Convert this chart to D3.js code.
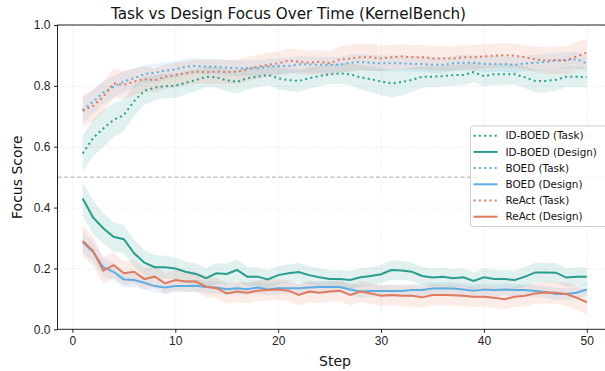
<!DOCTYPE html>
<html lang="en">
<head>
<meta charset="UTF-8">
<title>Task vs Design Focus Over Time (KernelBench)</title>
<script src="https://d3js.org/d3.v7.min.js"></script>
<style>
  body { margin: 0; background: #fff; }
  svg { display: block; font-family: "DejaVu Sans", sans-serif; }
  .grid line { stroke: #ddd; stroke-width: 0.8; stroke-dasharray: 1,2; }
  .grid .domain { display: none; }
  .axis text { font-size: 12px; fill: #222; }
  .axis line { stroke: #222; }
  .axis .domain { display: none; }
</style>
</head>
<body>
<svg id="chart"></svg>
<script>
// data (steps 1..50)
const steps = d3.range(1, 51);
const methods = ["ID-BOED", "BOED", "ReAct"];
const colors = ["#2a9d8f", "#5dade2", "#e07a5f"];
const xTicks = [0, 10, 20, 30, 40, 50];
const yTicks = [0.0, 0.2, 0.4, 0.6, 0.8, 1.0];

const idboedTask = [0.578,0.628,0.660,0.688,0.704,0.750,0.784,0.794,0.799,0.800,
  0.810,0.819,0.830,0.828,0.818,0.813,0.825,0.830,0.836,0.825,
  0.819,0.816,0.825,0.832,0.838,0.841,0.838,0.828,0.822,0.814,
  0.808,0.812,0.820,0.830,0.830,0.832,0.835,0.836,0.845,0.832,
  0.838,0.838,0.838,0.828,0.816,0.816,0.820,0.830,0.830,0.828];
const idboedTaskSd = [0.058,0.060,0.060,0.056,0.052,0.050,0.046,0.042,0.040,0.040,
  0.038,0.036,0.034,0.034,0.036,0.038,0.036,0.034,0.034,0.036,
  0.036,0.036,0.034,0.034,0.032,0.034,0.036,0.040,0.042,0.044,
  0.046,0.044,0.040,0.036,0.034,0.034,0.034,0.034,0.032,0.034,
  0.034,0.034,0.034,0.036,0.038,0.038,0.036,0.034,0.034,0.034];
const idboedDesign = [0.430,0.368,0.332,0.304,0.296,0.250,0.219,0.204,0.204,0.200,
  0.189,0.182,0.168,0.184,0.182,0.195,0.173,0.173,0.164,0.178,
  0.184,0.188,0.178,0.171,0.165,0.165,0.162,0.171,0.175,0.181,
  0.195,0.193,0.189,0.175,0.170,0.173,0.168,0.171,0.159,0.171,
  0.165,0.165,0.162,0.173,0.187,0.187,0.186,0.170,0.173,0.173];
const idboedDesignSd = [0.055,0.055,0.050,0.048,0.046,0.044,0.042,0.040,0.038,0.036,
  0.034,0.034,0.032,0.034,0.034,0.034,0.032,0.030,0.030,0.030,
  0.030,0.030,0.030,0.030,0.030,0.030,0.030,0.030,0.030,0.030,
  0.032,0.032,0.030,0.030,0.030,0.030,0.030,0.030,0.028,0.030,
  0.030,0.030,0.030,0.032,0.032,0.032,0.032,0.030,0.030,0.030];

const boedTask = [0.720,0.748,0.778,0.797,0.814,0.825,0.839,0.843,0.850,0.854,
  0.863,0.865,0.863,0.863,0.860,0.858,0.858,0.858,0.863,0.865,
  0.865,0.871,0.871,0.869,0.869,0.869,0.876,0.879,0.876,0.874,
  0.874,0.874,0.872,0.872,0.869,0.869,0.874,0.876,0.876,0.872,
  0.872,0.872,0.869,0.874,0.876,0.879,0.883,0.885,0.887,0.874];
const boedTaskSd = [0.040,0.040,0.038,0.036,0.034,0.032,0.030,0.030,0.028,0.028,
  0.026,0.026,0.026,0.026,0.026,0.026,0.026,0.026,0.026,0.026,
  0.026,0.026,0.026,0.026,0.026,0.026,0.026,0.026,0.026,0.026,
  0.026,0.026,0.026,0.026,0.026,0.026,0.026,0.026,0.026,0.026,
  0.026,0.026,0.026,0.026,0.026,0.026,0.026,0.026,0.026,0.026];
const boedDesign = [0.287,0.255,0.204,0.189,0.164,0.162,0.153,0.142,0.137,0.142,
  0.142,0.143,0.139,0.137,0.132,0.135,0.132,0.137,0.131,0.135,
  0.135,0.135,0.137,0.139,0.139,0.139,0.131,0.124,0.126,0.126,
  0.126,0.126,0.129,0.129,0.134,0.135,0.134,0.131,0.127,0.131,
  0.129,0.131,0.129,0.129,0.126,0.123,0.116,0.116,0.120,0.131];
const boedDesignSd = [0.035,0.032,0.030,0.028,0.026,0.024,0.022,0.022,0.020,0.020,
  0.020,0.020,0.020,0.020,0.020,0.020,0.020,0.020,0.020,0.020,
  0.020,0.020,0.020,0.020,0.020,0.020,0.020,0.020,0.020,0.020,
  0.020,0.020,0.020,0.020,0.020,0.020,0.020,0.020,0.020,0.020,
  0.020,0.020,0.020,0.020,0.020,0.020,0.020,0.020,0.020,0.020];

const reactTask = [0.718,0.734,0.764,0.808,0.803,0.814,0.822,0.818,0.830,0.836,
  0.841,0.847,0.845,0.847,0.845,0.847,0.854,0.863,0.869,0.874,
  0.883,0.879,0.876,0.879,0.874,0.887,0.890,0.894,0.894,0.890,
  0.894,0.897,0.894,0.894,0.890,0.890,0.890,0.894,0.894,0.897,
  0.899,0.901,0.899,0.894,0.887,0.883,0.885,0.883,0.897,0.909];
const reactTaskSd = [0.052,0.052,0.050,0.048,0.046,0.044,0.042,0.040,0.040,0.040,
  0.040,0.040,0.040,0.040,0.040,0.040,0.040,0.040,0.040,0.040,
  0.040,0.040,0.040,0.040,0.040,0.042,0.044,0.044,0.044,0.042,
  0.040,0.040,0.040,0.040,0.040,0.040,0.040,0.040,0.040,0.040,
  0.040,0.040,0.040,0.040,0.042,0.044,0.046,0.046,0.046,0.046];
const reactDesign = [0.290,0.258,0.193,0.211,0.184,0.189,0.165,0.173,0.151,0.162,
  0.157,0.157,0.140,0.135,0.118,0.124,0.120,0.127,0.129,0.131,
  0.127,0.113,0.124,0.120,0.124,0.127,0.113,0.124,0.118,0.110,
  0.113,0.110,0.110,0.105,0.113,0.113,0.112,0.110,0.107,0.107,
  0.104,0.099,0.107,0.110,0.118,0.121,0.120,0.116,0.104,0.089];
const reactDesignSd = [0.050,0.048,0.045,0.042,0.040,0.038,0.036,0.035,0.034,0.034,
  0.034,0.034,0.034,0.034,0.034,0.034,0.034,0.034,0.034,0.034,
  0.034,0.034,0.034,0.034,0.034,0.034,0.034,0.034,0.034,0.034,
  0.034,0.034,0.034,0.034,0.034,0.034,0.034,0.034,0.034,0.034,
  0.034,0.034,0.034,0.034,0.034,0.036,0.036,0.038,0.038,0.040];

const series = [
  { name: "ID-BOED (Task)",   mean: idboedTask,   sd: idboedTaskSd,   color: colors[0], dotted: true },
  { name: "ID-BOED (Design)", mean: idboedDesign, sd: idboedDesignSd, color: colors[0], dotted: false },
  { name: "BOED (Task)",      mean: boedTask,     sd: boedTaskSd,     color: colors[1], dotted: true },
  { name: "BOED (Design)",    mean: boedDesign,   sd: boedDesignSd,   color: colors[1], dotted: false },
  { name: "ReAct (Task)",     mean: reactTask,    sd: reactTaskSd,    color: colors[2], dotted: true },
  { name: "ReAct (Design)",   mean: reactDesign,  sd: reactDesignSd,  color: colors[2], dotted: false }
];

const W = 605, H = 371;
const svg = d3.select("#chart").attr("width", W).attr("height", H);

// axes box (right edge falls just outside the picture, as in the reference)
const axL = 57.5, axR = 612, axT = 25, axB = 329.3;
const x = d3.scaleLinear().domain([-1.45, 52.45]).range([axL, axR]);
const y = d3.scaleLinear().domain([0, 1]).range([axB, axT]);

// grid
svg.append("g").attr("class", "grid")
  .attr("transform", `translate(0,${axB})`)
  .call(d3.axisBottom(x).tickValues(xTicks).tickSize(-(axB - axT)).tickFormat(""));
svg.append("g").attr("class", "grid")
  .attr("transform", `translate(${axL},0)`)
  .call(d3.axisLeft(y).tickValues(yTicks).tickSize(-(axR - axL)).tickFormat(""));

// reference line at 0.5
svg.append("line")
  .attr("x1", axL).attr("x2", axR)
  .attr("y1", y(0.5)).attr("y2", y(0.5))
  .attr("stroke", "#aaa").attr("stroke-width", 1)
  .attr("stroke-dasharray", "4,2.5");

// bands
const area = d3.area()
  .x((d, i) => x(steps[i]))
  .y0(d => y(d[0]))
  .y1(d => y(d[1]));
series.forEach(s => {
  svg.append("path")
    .datum(s.mean.map((m, i) => [m - s.sd[i], m + s.sd[i]]))
    .attr("d", area)
    .attr("fill", s.color)
    .attr("fill-opacity", 0.14);
});

// lines
const line = d3.line().x((d, i) => x(steps[i])).y(d => y(d));
series.forEach(s => {
  svg.append("path")
    .datum(s.mean)
    .attr("d", line)
    .attr("fill", "none")
    .attr("stroke", s.color)
    .attr("stroke-width", 2)
    .attr("stroke-dasharray", s.dotted ? "2,3.3" : null);
});

// spines
svg.append("rect").attr("x", axL).attr("y", axT)
  .attr("width", axR - axL).attr("height", axB - axT)
  .attr("fill", "none").attr("stroke", "#222").attr("stroke-width", 1);

// axes
svg.append("g").attr("class", "axis")
  .attr("transform", `translate(0,${axB})`)
  .call(d3.axisBottom(x).tickValues(xTicks).tickSize(3.5).tickPadding(3.5));
svg.append("g").attr("class", "axis")
  .attr("transform", `translate(${axL},0)`)
  .call(d3.axisLeft(y).tickValues(yTicks).tickSize(3.5).tickPadding(3.5)
    .tickFormat(d3.format(".1f")));

// labels
svg.append("text")
  .attr("x", 288.5).attr("y", 18.5)
  .attr("text-anchor", "middle")
  .style("font-size", "15.2px").attr("fill", "#111")
  .text("Task vs Design Focus Over Time (KernelBench)");
svg.append("text")
  .attr("x", 335).attr("y", 366)
  .attr("text-anchor", "middle")
  .style("font-size", "14px").attr("fill", "#111")
  .text("Step");
svg.append("text")
  .attr("transform", `translate(22,${(axT + axB) / 2}) rotate(-90)`)
  .attr("text-anchor", "middle")
  .style("font-size", "14px").attr("fill", "#111")
  .text("Focus Score");

// legend
const lg = svg.append("g").attr("transform", "translate(470.5,126)");
lg.append("rect")
  .attr("width", 150).attr("height", 100.5)
  .attr("rx", 2.5)
  .attr("fill", "#fff").attr("fill-opacity", 0.85)
  .attr("stroke", "#ccc").attr("stroke-width", 1);
series.forEach((s, i) => {
  const yy = 9.7 + i * 16.2;
  lg.append("line")
    .attr("x1", 3).attr("x2", 27).attr("y1", yy).attr("y2", yy)
    .attr("stroke", s.color).attr("stroke-width", 2)
    .attr("stroke-dasharray", s.dotted ? "2,3.3" : null);
  lg.append("text")
    .attr("x", 35).attr("y", yy + 3.7)
    .style("font-size", "10.4px").attr("fill", "#111")
    .text(s.name);
});
</script>
</body>
</html>
